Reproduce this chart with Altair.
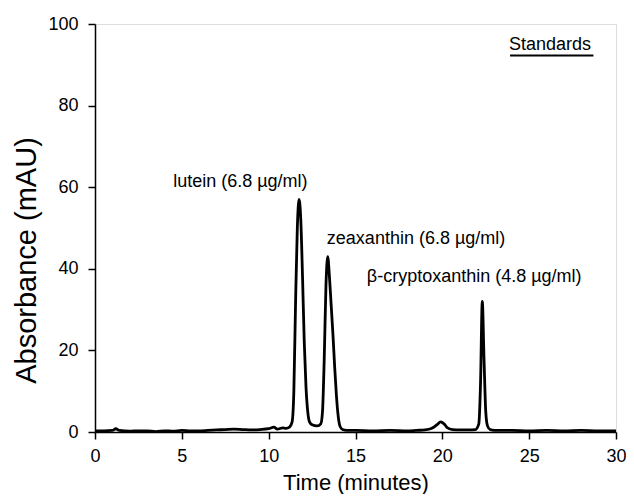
import altair as alt
import pandas as pd

# Chromatogram trace (time in minutes, absorbance in mAU)
time = [0.0, 0.5, 1.0, 1.2, 1.4, 2.0, 2.5, 3.0, 3.5, 4.0, 4.5, 5.0, 5.5, 6.0, 6.5, 7.0,
        7.5, 8.0, 8.5, 9.0, 9.5, 10.0, 10.3, 10.5, 10.8, 11.0, 11.2, 11.35, 11.45,
        11.55, 11.65, 11.75, 11.85, 11.95, 12.05, 12.15, 12.25, 12.35, 12.5, 12.8,
        13.0, 13.1, 13.2, 13.3, 13.4, 13.5, 13.6, 13.7, 13.8, 13.9, 14.0, 14.1, 14.25,
        14.5, 15.0, 16.0, 17.0, 18.0, 18.5, 19.0, 19.4, 19.7, 19.9, 20.1, 20.3, 20.6,
        21.0, 21.5, 21.9, 22.1, 22.2, 22.3, 22.4, 22.5, 22.6, 22.75, 23.0, 24.0, 25.0,
        26.0, 27.0, 28.0, 29.0, 30.0]
absorbance = [0.3, 0.3, 0.4, 0.8, 0.4, 0.2, 0.3, 0.3, 0.1, 0.3, 0.2, 0.4, 0.3, 0.3, 0.4, 0.5,
              0.6, 0.7, 0.6, 0.5, 0.6, 0.8, 1.2, 0.7, 1.0, 0.9, 1.2, 2.5, 10.0,
              32.0, 50.0, 57.0, 52.0, 38.0, 22.0, 11.0, 5.0, 2.5, 1.8, 1.5,
              2.0, 5.0, 18.0, 36.0, 43.0, 38.0, 31.0, 24.0, 16.0, 9.0, 4.0, 1.5, 0.6,
              0.4, 0.4, 0.3, 0.4, 0.3, 0.4, 0.5, 0.9, 1.8, 2.5, 2.0, 1.0, 0.6,
              0.5, 0.5, 0.6, 2.0, 12.0, 32.0, 18.0, 5.0, 1.5, 0.6, 0.4, 0.4, 0.3,
              0.4, 0.3, 0.4, 0.3, 0.3]

# Peak labels
label_text = ["lutein (6.8 \u00b5g/ml)", "zeaxanthin (6.8 \u00b5g/ml)",
              "\u03b2-cryptoxanthin (4.8 \u00b5g/ml)"]
label_time = [4.5, 13.35, 15.65]
label_abs = [60.0, 46.2, 36.8]

title_text = ["Standards"]
title_time = [26.2]
title_abs = [93.6]
underline_start = [23.9]
underline_end = [28.7]
underline_abs = [92.3]

trace = pd.DataFrame({"t": time, "a": absorbance})
labels = pd.DataFrame({"t": label_time, "a": label_abs, "txt": label_text})
std = pd.DataFrame({"t": title_time, "a": title_abs, "txt": title_text,
                    "t0": underline_start, "t1": underline_end, "au": underline_abs})

FONT = "Liberation Sans"

xscale = alt.Scale(domain=[0, 30], nice=False, zero=False)
yscale = alt.Scale(domain=[0, 100], nice=False)

xaxis = alt.Axis(values=[0, 5, 10, 15, 20, 25, 30], grid=False, tickSize=7,
                 tickColor="black", domainColor="black", domainWidth=1.5, tickWidth=1.5,
                 labelFont=FONT, labelFontSize=18, labelColor="black", labelPadding=8,
                 title="Time (minutes)", titleFont=FONT, titleFontSize=22,
                 titleFontWeight="normal", titleColor="black", titleBaseline="alphabetic",
                 titleY=57, labelFlush=False)
yaxis = alt.Axis(values=[0, 20, 40, 60, 80, 100], grid=False, tickSize=7,
                 tickColor="black", domainColor="black", domainWidth=1.5, tickWidth=1.5,
                 labelFont=FONT, labelFontSize=18, labelColor="black", labelPadding=10,
                 title="Absorbance (mAU)", titleFont=FONT, titleFontSize=29,
                 titleFontWeight="normal", titleColor="black", titleX=-60, titleY=236,
                 titleBaseline="alphabetic", labelFlush=False)

line = alt.Chart(trace).mark_line(color="black", strokeWidth=2.8, interpolate="monotone").encode(
    x=alt.X("t:Q", scale=xscale, axis=xaxis),
    y=alt.Y("a:Q", scale=yscale, axis=yaxis),
)

peak_labels = alt.Chart(labels).mark_text(
    align="left", baseline="alphabetic", font=FONT, fontSize=18, color="black"
).encode(x=alt.X("t:Q", scale=xscale), y=alt.Y("a:Q", scale=yscale), text="txt:N")

std_text = alt.Chart(std).mark_text(
    align="center", baseline="alphabetic", font=FONT, fontSize=18, color="black"
).encode(x=alt.X("t:Q", scale=xscale), y=alt.Y("a:Q", scale=yscale), text="txt:N")

std_line = alt.Chart(std).mark_rule(color="black", strokeWidth=2).encode(
    x=alt.X("t0:Q", scale=xscale), x2="t1:Q", y=alt.Y("au:Q", scale=yscale)
)

chart = alt.layer(line, peak_labels, std_text, std_line).properties(
    width=521, height=408,
    autosize=alt.AutoSizeParams(type="none"),
    padding={"left": 87, "top": 16, "right": 10, "bottom": 62},
).configure_view(stroke="black", strokeWidth=1.5).configure(background="white")

chart.save("out.html", embed_options={"renderer": "svg", "actions": False})
